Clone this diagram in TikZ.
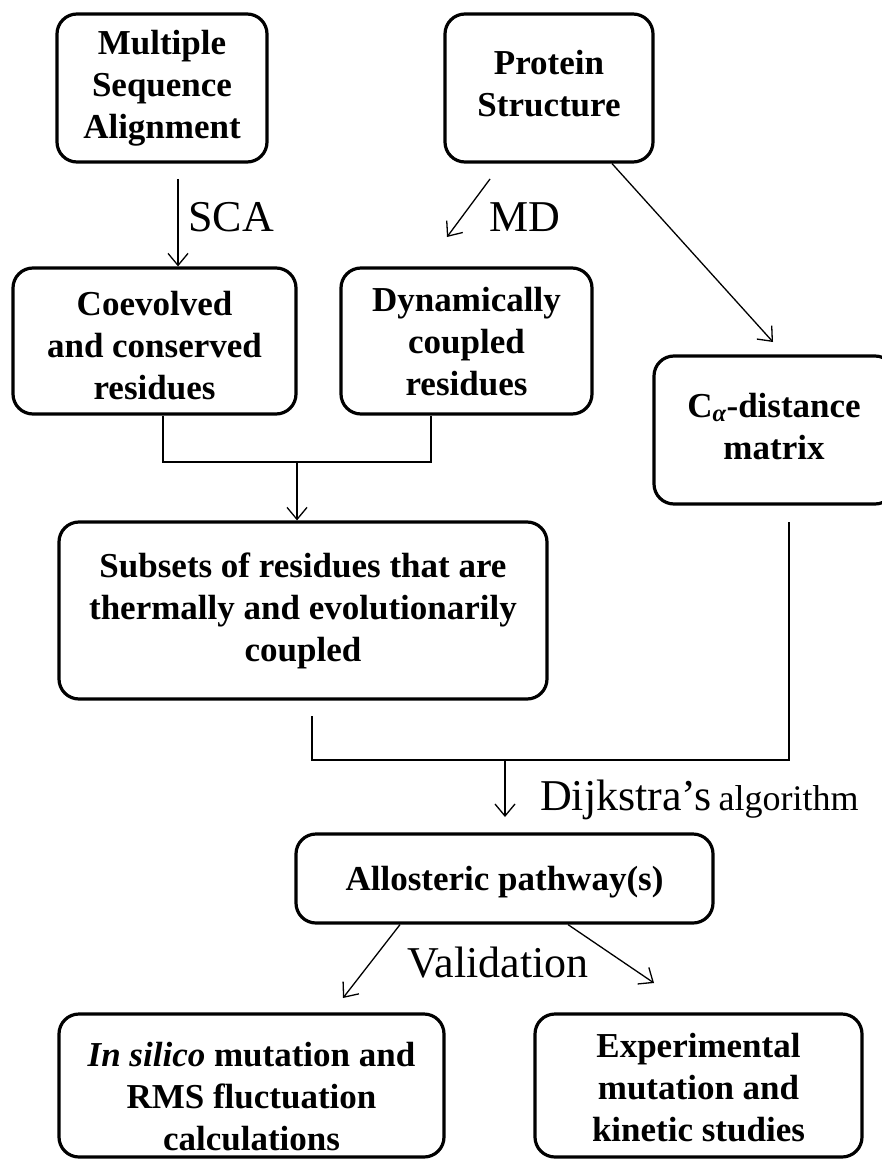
\documentclass[tikz,border=0pt]{standalone}
\usepackage{fontspec}
\setmainfont{Liberation Serif}
\usetikzlibrary{arrows.meta}
\begin{document}
\begin{tikzpicture}[x=1pt,y=-1pt,
  box/.style={draw=black, line width=3.2pt, rounded corners=20pt, inner sep=0pt},
  btext/.style={font=\fontsize{35}{42}\selectfont\bfseries, align=center, inner sep=0pt},
  lbl/.style={font=\fontsize{44}{48}\selectfont, inner sep=0pt},
  conn/.style={line width=1.3pt},
  arr/.style={conn, -{Straight Barb[length=12pt,width=20pt,line width=1.3pt]}}]
\useasboundingbox (0,0) rectangle (882,1161);
\begin{scope}
\clip (0,0) rectangle (882,1161);
% boxes
\node[box, minimum width=210pt, minimum height=148pt] (msa) at (162,88) {};
\node[btext] (msaT) at (162,88) {Multiple\\Sequence\\Alignment};
\node[box, minimum width=208pt, minimum height=148pt] (prot) at (549,88) {};
\node[btext] (protT) at (549,84) {Protein\\Structure};
\node[box, minimum width=283pt, minimum height=146pt] (coev) at (154.5,341) {};
\node[btext] (coevT) at (154.5,346) {Coevolved\\and conserved\\residues};
\node[box, minimum width=251pt, minimum height=146pt] (dyn) at (466.5,341) {};
\node[btext] (dynT) at (466.5,342) {Dynamically\\coupled\\residues};
\node[box, minimum width=241pt, minimum height=148pt] (calpha) at (774.5,430) {};
\node[btext] (calphaT) at (774,427) {C\textsubscript{\itshape α}-distance\\matrix};
\node[box, minimum width=488pt, minimum height=177pt] (sub) at (303,610.5) {};
\node[btext] (subT) at (303,611) {Subsets of residues that are\\thermally and evolutionarily\\coupled};
\node[box, minimum width=417pt, minimum height=89pt] (allo) at (504.5,878.5) {};
\node[btext] (alloT) at (504.5,882) {Allosteric pathway(s)};
\node[box, minimum width=385pt, minimum height=143pt] (insil) at (251.5,1085.5) {};
\node[btext] (insilT) at (251.5,1097) {\textit{In silico} mutation and\\RMS fluctuation\\calculations};
\node[box, minimum width=327pt, minimum height=143pt] (expt) at (698.5,1085.5) {};
\node[btext] (exptT) at (698.5,1088) {Experimental\\mutation and\\kinetic studies};
\end{scope}
% labels
\node[lbl, anchor=west] (sca) at (188,217) {SCA};
\node[lbl, anchor=west] (md) at (489,217) {MD};
\node[lbl, anchor=west] (dij) at (540,800) {Dijkstra’s\,\fontsize{36}{40}\selectfont algorithm};
\node[lbl] (val) at (498,963) {Validation};
% coordinates
\coordinate (scaS) at (178,179);
\coordinate (mdS) at (490,179);
\coordinate (mdE) at (447,237);
\coordinate (pcE) at (773,342);
\coordinate (m1) at (163,462);
\coordinate (m2) at (431,462);
\coordinate (m3) at (297,462);
\coordinate (l1) at (312,716);
\coordinate (l2) at (312,760);
\coordinate (l3) at (789,760);
\coordinate (l4) at (789,522);
\coordinate (l5) at (505,760);
\coordinate (l6) at (505,817);
\coordinate (vL) at (343,998);
\coordinate (vR) at (654,983);
% connectors
\draw[arr] (scaS) -- (scaS |- coev.north);
\draw[arr] (mdS) -- (mdE);
\draw[arr] (prot.south -| 612,0) -- (pcE);
\draw[conn] (coev.south -| m1) -- (m1) -- (m2) -- (dyn.south -| m2);
\draw[arr] (m3) -- (m3 |- sub.north);
\draw[conn] (l1) -- (l2) -- (l3) -- (l4);
\draw[arr] (l5) -- (l6);
\draw[arr] (allo.south -| 400,0) -- (vL);
\draw[arr] (allo.south -| 568,0) -- (vR);
\end{tikzpicture}
\end{document}
